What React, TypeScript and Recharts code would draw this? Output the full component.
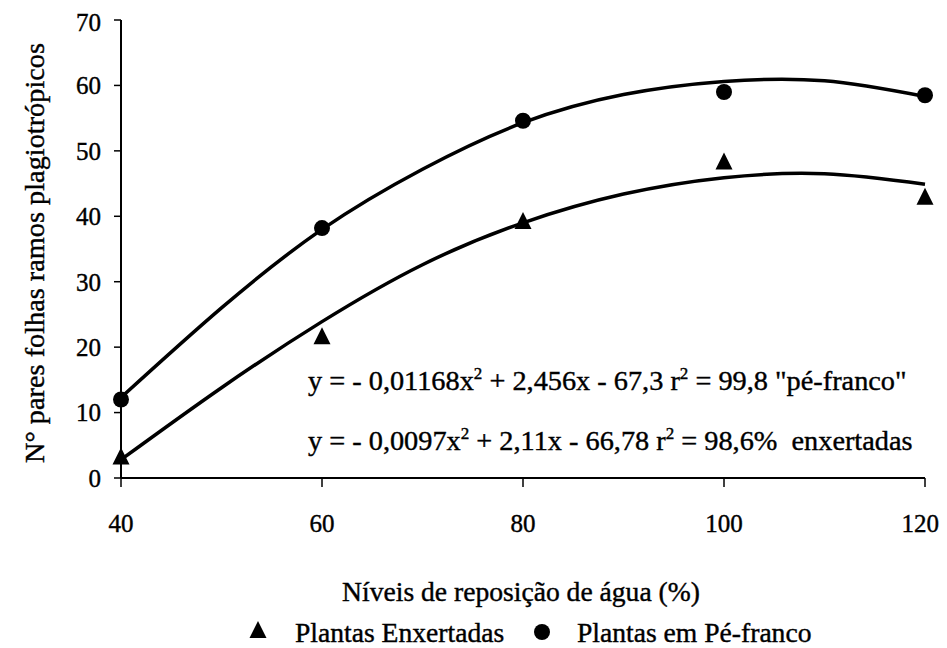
import React from "react";
import { ComposedChart, Line, Scatter, XAxis, YAxis, Customized } from "recharts";

// observed means
const levels = [40, 60, 80, 100, 120];
const peFrancoObs = [12.0, 38.2, 54.6, 59.0, 58.5];
const enxertadasObs = [3.1, 21.5, 39.1, 48.2, 42.8];

// fitted curves
const fitLevels = [40, 50, 60, 70, 80, 90, 100, 110, 120];
const peFrancoFit = [12.3, 26.0, 38.0, 47.2, 54.3, 58.6, 60.6, 60.7, 58.3];
const enxertadasFit = [2.8, 13.8, 23.9, 32.6, 39.0, 43.4, 45.9, 46.5, 44.9];

const xTicks = [40, 60, 80, 100, 120];
const yTicks = [0, 10, 20, 30, 40, 50, 60, 70];

const seriesNames = ["Plantas Enxertadas", "Plantas em Pé-franco"];

const peFrancoPts = levels.map((x, i) => ({ x, y: peFrancoObs[i] }));
const enxertadasPts = levels.map((x, i) => ({ x, y: enxertadasObs[i] }));
const peFrancoLine = fitLevels.map((x, i) => ({ x, y: peFrancoFit[i] }));
const enxertadasLine = fitLevels.map((x, i) => ({ x, y: enxertadasFit[i] }));

const ink = "#000";
const font = "'Liberation Serif', serif";
const txt = {
  style: { fontFamily: font },
  fill: ink,
  stroke: ink,
  strokeWidth: 0.4,
};

function Triangle(props: any) {
  const { cx, cy } = props;
  const s = 17;
  return (
    <polygon
      points={`${cx},${cy - s * 0.6} ${cx - s / 2},${cy + s * 0.4} ${cx + s / 2},${cy + s * 0.4}`}
      fill={ink}
    />
  );
}

function Dot(props: any) {
  const { cx, cy } = props;
  return <circle cx={cx} cy={cy} r={8} fill={ink} />;
}

function Equations() {
  const st = { fontFamily: font, whiteSpace: "pre" as const };
  return (
    <g fontSize={28.3}>
      <text x={300} y={382} {...txt} style={st}>
        y = - 0,01168x<tspan dy={-11} fontSize={17}>2</tspan>
        <tspan dy={11}> + 2,456x - 67,3 r</tspan>
        <tspan dy={-11} fontSize={17}>2</tspan>
        <tspan dy={11}> = 99,8 "pé-franco"</tspan>
      </text>
      <text x={300} y={442} {...txt} style={st}>
        y = - 0,0097x<tspan dy={-11} fontSize={17}>2</tspan>
        <tspan dy={11}> + 2,11x - 66,78 r</tspan>
        <tspan dy={-11} fontSize={17}>2</tspan>
        <tspan dy={11}> = 98,6%  enxertadas</tspan>
      </text>
    </g>
  );
}

export default function App() {
  return (
    <div style={{ position: "relative", width: 931, height: 640 }}>
      <ComposedChart width={931} height={640} margin={{ top: 12, right: 14, bottom: 0, left: 0 }}>
        <XAxis
          type="number"
          dataKey="x"
          domain={[40, 120]}
          ticks={xTicks}
          height={170}
          tickSize={9}
          tickMargin={27}
          axisLine={{ stroke: ink, strokeWidth: 2 }}
          tickLine={{ stroke: ink, strokeWidth: 1.5 }}
          tick={{ ...txt, fontSize: 25 }}
          label={{
            content: (p: any) => {
              const vb = p.viewBox;
              return (
                <text x={vb.x + vb.width / 2 - 2} y={593} textAnchor="middle" fontSize={27.6} {...txt}>
                  Níveis de reposição de água (%)
                </text>
              );
            },
          }}
        />
        <YAxis
          type="number"
          dataKey="y"
          domain={[0, 70]}
          ticks={yTicks}
          width={113}
          tickSize={7}
          tickMargin={13}
          axisLine={{ stroke: ink, strokeWidth: 2 }}
          tickLine={{ stroke: ink, strokeWidth: 1.5 }}
          tick={{ ...txt, fontSize: 25 }}
          label={{
            content: (p: any) => {
              const vb = p.viewBox;
              const cx = 26;
              const cy = vb.y + vb.height / 2 + 4;
              return (
                <text
                  x={cx}
                  y={cy}
                  transform={`rotate(-90, ${cx}, ${cy})`}
                  textAnchor="middle"
                  dominantBaseline="central"
                  fontSize={28.3}
                  {...txt}
                >
                  N° pares folhas ramos plagiotrópicos
                </text>
              );
            },
          }}
        />
        <Line
          data={peFrancoLine}
          dataKey="y"
          type="natural"
          stroke={ink}
          strokeWidth={3.5}
          dot={false}
          activeDot={false}
          isAnimationActive={false}
        />
        <Line
          data={enxertadasLine}
          dataKey="y"
          type="natural"
          stroke={ink}
          strokeWidth={3.5}
          dot={false}
          activeDot={false}
          isAnimationActive={false}
        />
        <Scatter data={peFrancoPts} dataKey="y" shape={<Dot />} isAnimationActive={false} />
        <Scatter data={enxertadasPts} dataKey="y" shape={<Triangle />} isAnimationActive={false} />
        <Customized component={Equations} />
      </ComposedChart>
      <svg width={931} height={40} style={{ position: "absolute", left: 0, top: 604 }}>
        <g fontSize={27.6}>
          <polygon points="250,9 241.5,26 258.5,26" fill={ink} />
          <text x={287} y={30} {...txt}>{seriesNames[0]}</text>
          <circle cx={534} cy={20} r={8} fill={ink} />
          <text x={569} y={30} {...txt}>{seriesNames[1]}</text>
        </g>
      </svg>
    </div>
  );
}
